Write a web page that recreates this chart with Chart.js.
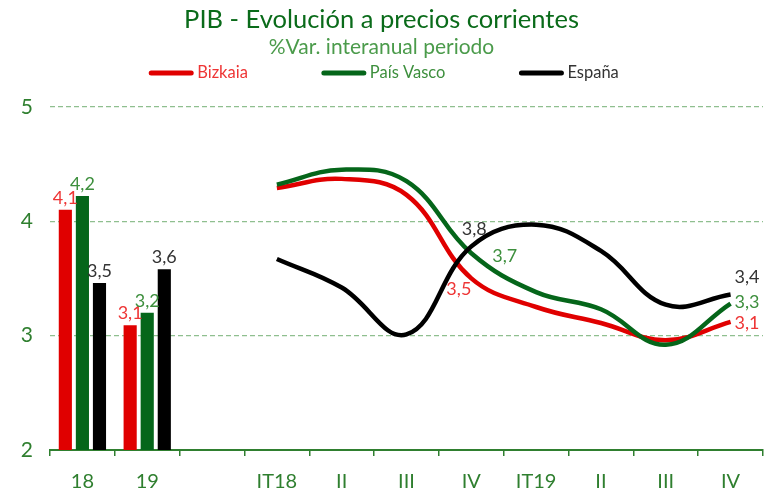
<!DOCTYPE html>
<html>
<head>
<meta charset="utf-8">
<script src="https://cdn.jsdelivr.net/npm/chart.js@4.4.1/dist/chart.umd.min.js"></script>
<style>
  body { margin: 0; background: #fff; }
</style>
</head>
<body>
<canvas id="pibChart" width="764" height="489"></canvas>
<script>
// Categories on the x axis (annual, gap, quarterly)
const periodLabels = ["18", "19", "", "IT18", "II", "III", "IV", "IT19", "II", "III", "IV"];
const seriesNames = ["Bizkaia", "País Vasco", "España"];

// Annual values (bars)
const annualBizkaia = [4.1, 3.09];
const annualPaisVasco = [4.22, 3.2];
const annualEspana = [3.46, 3.58];

// Quarterly values IT18..IV19 (lines)
const quarterBizkaia = [4.29, 4.37, 4.23, 3.5, 3.25, 3.11, 2.96, 3.12];
const quarterPaisVasco = [4.32, 4.45, 4.35, 3.72, 3.38, 3.23, 2.92, 3.28];
const quarterEspana = [3.67, 3.42, 3.01, 3.78, 3.97, 3.74, 3.27, 3.36];

const seriesColors = ["#e00000", "#05661a", "#000000"];
const labelColors = ["#ee3535", "#3d8f3d", "#333333"];
const axisGreen = "#2f7f2f";

// pad the arrays so they sit on the right categories
const quarterStart = periodLabels.indexOf("IT18");
const asBars = (vals) => vals.concat(Array(periodLabels.length - vals.length).fill(null));
const asLine = (vals) => Array(quarterStart).fill(null).concat(vals);

const fmt = (v) => v.toFixed(1).replace(".", ",");

// draws the value labels next to bars and selected line points
const valueLabels = {
  id: "valueLabels",
  afterDatasetsDraw(chart) {
    const ctx = chart.ctx;
    ctx.save();
    ctx.font = "18px Lato";
    chart.data.datasets.forEach((ds, di) => {
      const meta = chart.getDatasetMeta(di);
      meta.data.forEach((el, i) => {
        const v = ds.data[i];
        if (v == null) return;
        let spot;
        if (ds.type === "bar") {
          spot = [0, -3, "center", "bottom"];
        } else {
          spot = ds.labelSpots[i - quarterStart];
          if (!spot) return;
        }
        ctx.fillStyle = ds.labelColor;
        ctx.textAlign = spot[2];
        ctx.textBaseline = spot[3];
        ctx.fillText(fmt(v), el.x + spot[0], el.y + spot[1]);
      });
    });
    ctx.restore();
  },
};

// legend with wide gaps between the items, like the original
const spacedLegend = {
  id: "spacedLegend",
  afterDraw(chart) {
    const ctx = chart.ctx;
    const lineLen = 44;
    const gap = 74;
    const y = 73;
    ctx.save();
    ctx.font = "16.5px Lato";
    const widths = seriesNames.map((n) => lineLen + 4 + ctx.measureText(n).width);
    const total = widths.reduce((a, b) => a + b, 0) + gap * (seriesNames.length - 1);
    let x = chart.width / 2 + 2 - total / 2;
    seriesNames.forEach((name, i) => {
      ctx.strokeStyle = seriesColors[i];
      ctx.lineWidth = 5;
      ctx.lineCap = "round";
      ctx.beginPath();
      ctx.moveTo(x + 2, y);
      ctx.lineTo(x + lineLen - 2, y);
      ctx.stroke();
      ctx.fillStyle = labelColors[i];
      ctx.textAlign = "left";
      ctx.textBaseline = "middle";
      ctx.fillText(name, x + lineLen + 4, y);
      x += widths[i] + gap;
    });
    ctx.restore();
  },
};

const barDefaults = { type: "bar", categoryPercentage: 0.79, barPercentage: 0.77, borderWidth: 0 };
const lineDefaults = { type: "line", borderWidth: 4.5, pointRadius: 0, tension: 0.4, fill: false };

const ctx = document.getElementById("pibChart").getContext("2d");
const pibChart = new Chart(ctx, {
  data: {
    labels: periodLabels,
    datasets: [
      { ...lineDefaults, label: seriesNames[2], data: asLine(quarterEspana), borderColor: seriesColors[2],
        labelColor: labelColors[2], order: 1,
        labelSpots: { 3: [3, -8, "center", "bottom"], 7: [4, -17, "left", "middle"] } },
      { ...lineDefaults, label: seriesNames[1], data: asLine(quarterPaisVasco), borderColor: seriesColors[1],
        labelColor: labelColors[1], order: 2,
        labelSpots: { 3: [21, 3, "left", "middle"], 7: [4, -1, "left", "middle"] } },
      { ...lineDefaults, label: seriesNames[0], data: asLine(quarterBizkaia), borderColor: seriesColors[0],
        labelColor: labelColors[0], order: 3,
        labelSpots: { 3: [0, 2, "right", "top"], 7: [4, 1, "left", "middle"] } },
      { ...barDefaults, label: seriesNames[0], data: asBars(annualBizkaia), backgroundColor: seriesColors[0],
        labelColor: labelColors[0], order: 4 },
      { ...barDefaults, label: seriesNames[1], data: asBars(annualPaisVasco), backgroundColor: seriesColors[1],
        labelColor: labelColors[1], order: 5 },
      { ...barDefaults, label: seriesNames[2], data: asBars(annualEspana), backgroundColor: seriesColors[2],
        labelColor: labelColors[2], order: 6 },
    ],
  },
  options: {
    responsive: false,
    animation: false,
    layout: { padding: { left: 0, right: 1, top: 0, bottom: 0 } },
    plugins: {
      legend: { display: false },
      tooltip: { enabled: false },
      title: {
        display: true,
        text: "PIB - Evolución a precios corrientes",
        color: "#0a6b1a",
        font: { family: "Lato", size: 25.5, weight: "normal" },
        padding: { top: 4, bottom: 0 },
      },
      subtitle: {
        display: true,
        text: "%Var. interanual periodo",
        color: "#4b9b4b",
        font: { family: "Lato", size: 21, weight: "normal" },
        padding: { top: 0, bottom: 47 },
      },
    },
    scales: {
      x: {
        offset: true,
        grid: { display: true, drawOnChartArea: false, drawTicks: true, tickLength: 6, color: axisGreen, lineWidth: 1.5, offset: true },
        border: { display: true, color: axisGreen, width: 2 },
        ticks: { color: axisGreen, font: { family: "Lato", size: 20 }, padding: 14, autoSkip: false, maxRotation: 0 },
        afterFit: (scale) => { scale.height = 39; },
      },
      y: {
        min: 2,
        max: 5,
        ticks: { stepSize: 1, color: axisGreen, font: { family: "Lato", size: 21 }, padding: 17 },
        grid: {
          drawTicks: false,
          color: (c) => (c.tick.value === 2 ? "rgba(0,0,0,0)" : "#8fbf8f"),
          lineWidth: 1.3,
        },
        border: { display: false, dash: [5, 3] },
        afterFit: (scale) => { scale.width = 50; },
      },
    },
  },
  plugins: [valueLabels, spacedLegend],
});
</script>
</body>
</html>
